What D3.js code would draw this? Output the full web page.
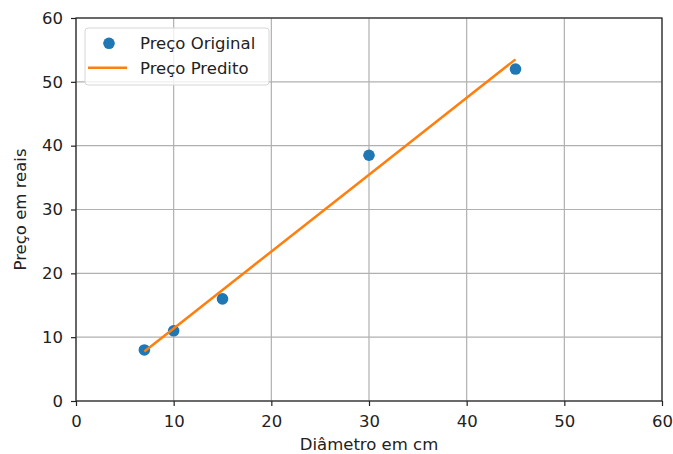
<!DOCTYPE html>
<html>
<head>
<meta charset="utf-8">
<script src="https://cdn.jsdelivr.net/npm/d3@7"></script>
<style>
  html, body { margin: 0; padding: 0; background: #fff; overflow: hidden; }
  svg { display: block; }
  text { font-family: "DejaVu Sans", sans-serif; fill: #222; }
</style>
</head>
<body>
<svg id="chart" width="673" height="454"></svg>
<script>
const diametros = [7, 10, 15, 30, 45];
const precoOriginal = [8, 11, 16, 38.5, 52];
const precoPredito = [7.76, 11.37, 17.39, 35.45, 53.52];
const xTicks = [0, 10, 20, 30, 40, 50, 60];
const yTicks = [0, 10, 20, 30, 40, 50, 60];

const svg = d3.select("#chart");
const margin = {top: 18, right: 11, bottom: 53, left: 76};
const width = +svg.attr("width");
const height = +svg.attr("height");
const innerWidth = width - margin.left - margin.right;
const innerHeight = height - margin.top - margin.bottom;
const fontSize = 16.5;

const x = d3.scaleLinear().domain([0, 60]).range([0, innerWidth]);
const y = d3.scaleLinear().domain([0, 60]).range([innerHeight, 0]);

const chart = svg.append("g")
    .attr("transform", `translate(${margin.left},${margin.top})`);

// grid
chart.append("g").selectAll("line").data(xTicks).enter().append("line")
    .attr("x1", d => x(d)).attr("x2", d => x(d))
    .attr("y1", 0).attr("y2", innerHeight)
    .attr("stroke", "#b0b0b0").attr("stroke-width", 1.2);
chart.append("g").selectAll("line").data(yTicks).enter().append("line")
    .attr("y1", d => y(d)).attr("y2", d => y(d))
    .attr("x1", 0).attr("x2", innerWidth)
    .attr("stroke", "#b0b0b0").attr("stroke-width", 1.2);

// axes
const xAxis = chart.append("g")
    .attr("transform", `translate(0,${innerHeight})`)
    .call(d3.axisBottom(x).tickValues(xTicks).tickSize(5).tickPadding(9));
const yAxis = chart.append("g")
    .call(d3.axisLeft(y).tickValues(yTicks).tickSize(5).tickPadding(8));
[xAxis, yAxis].forEach(a => {
  a.select(".domain").remove();
  a.selectAll("line").attr("stroke", "#222").attr("stroke-width", 1.2);
  a.selectAll("text").attr("font-size", fontSize).attr("fill", "#222")
    .style("font-family", "'DejaVu Sans', sans-serif");
});

// frame
chart.append("rect")
    .attr("width", innerWidth).attr("height", innerHeight)
    .attr("fill", "none").attr("stroke", "#222").attr("stroke-width", 1.2);

// points
chart.selectAll("circle.pt").data(precoOriginal).enter().append("circle")
    .attr("class", "pt")
    .attr("cx", (d, i) => x(diametros[i]))
    .attr("cy", d => y(d))
    .attr("r", 5.8)
    .attr("fill", "#1f77b4");

// regression line
const line = d3.line().x((d, i) => x(diametros[i])).y(d => y(d));
chart.append("path")
    .datum(precoPredito)
    .attr("d", line)
    .attr("fill", "none")
    .attr("stroke", "#ff7f0e")
    .attr("stroke-width", 2.5);

// axis labels
svg.append("text")
    .attr("x", margin.left + innerWidth / 2)
    .attr("y", 450)
    .attr("text-anchor", "middle")
    .attr("font-size", fontSize)
    .text("Diâmetro em cm");
svg.append("text")
    .attr("transform", `translate(25.5,${margin.top + innerHeight / 2}) rotate(-90)`)
    .attr("text-anchor", "middle")
    .attr("font-size", fontSize)
    .text("Preço em reais");

// legend
const legend = chart.append("g").attr("transform", "translate(9,10)");
legend.append("rect")
    .attr("width", 184).attr("height", 57).attr("rx", 3)
    .attr("fill", "#fff").attr("fill-opacity", 0.8)
    .attr("stroke", "#d6d6d6");
legend.append("circle").attr("cx", 24).attr("cy", 15.3).attr("r", 5.8).attr("fill", "#1f77b4");
legend.append("line").attr("x1", 3).attr("x2", 42).attr("y1", 39.7).attr("y2", 39.7)
    .attr("stroke", "#ff7f0e").attr("stroke-width", 2.5);
legend.append("text").attr("x", 55).attr("y", 21).attr("font-size", fontSize).text("Preço Original");
legend.append("text").attr("x", 55).attr("y", 46).attr("font-size", fontSize).text("Preço Predito");
</script>
</body>
</html>
